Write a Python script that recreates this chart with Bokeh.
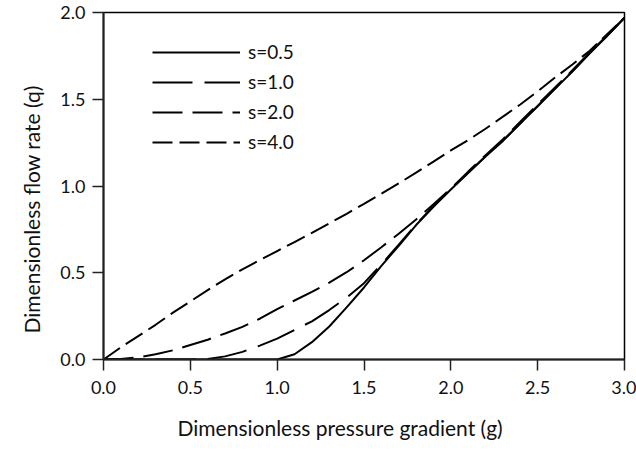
from bokeh.plotting import figure
from bokeh.models import Range1d, FixedTicker, PrintfTickFormatter, Legend, LegendItem, Title
from bokeh.embed import file_html
from bokeh.resources import INLINE

# Data
g = [0.0, 0.1, 0.2, 0.3, 0.4, 0.5, 0.6, 0.7, 0.8, 0.9, 1.0,
     1.1, 1.2, 1.3, 1.4, 1.5, 1.6, 1.7, 1.8, 1.9, 2.0,
     2.1, 2.2, 2.3, 2.4, 2.5, 2.6, 2.7, 2.8, 2.9, 3.0]

q_s05 = [0, 0, 0, 0, 0, 0, 0, 0, 0, 0, 0,
         0.03, 0.10, 0.19, 0.30, 0.415, 0.54, 0.655, 0.775, 0.88, 0.98,
         1.075, 1.17, 1.26, 1.36, 1.46, 1.56, 1.66, 1.765, 1.865, 1.97]
q_s10 = [0, 0, 0, 0, 0, 0, 0.003, 0.018, 0.044, 0.08, 0.12,
         0.17, 0.22, 0.285, 0.357, 0.44, 0.548, 0.662, 0.778, 0.884, 0.982,
         1.077, 1.172, 1.262, 1.362, 1.462, 1.562, 1.662, 1.766, 1.866, 1.97]
q_s20 = [0, 0.003, 0.012, 0.03, 0.053, 0.084, 0.114, 0.15, 0.188, 0.235, 0.29,
         0.34, 0.39, 0.443, 0.503, 0.572, 0.647, 0.725, 0.807, 0.895, 0.985,
         1.083, 1.178, 1.27, 1.37, 1.47, 1.568, 1.667, 1.77, 1.868, 1.97]
q_s40 = [0, 0.07, 0.135, 0.20, 0.27, 0.335, 0.40, 0.462, 0.52, 0.573, 0.625,
         0.677, 0.73, 0.785, 0.84, 0.897, 0.955, 1.015, 1.077, 1.14, 1.205,
         1.265, 1.33, 1.40, 1.47, 1.545, 1.625, 1.70, 1.78, 1.875, 1.97]

labels = ["s=0.5", "s=1.0", "s=2.0", "s=4.0"]
x_ticks = [0.0, 0.5, 1.0, 1.5, 2.0, 2.5, 3.0]
y_ticks = [0.0, 0.5, 1.0, 1.5, 2.0]
x_title = "Dimensionless pressure gradient (g)"
y_title = "Dimensionless flow rate (q)"

FONT = "Lato"
FSIZE = "18px"
TSIZE = "21px"

p = figure(width=636, height=453, output_backend="svg", toolbar_location=None,
           x_range=Range1d(0, 3), y_range=Range1d(0, 2),
           frame_width=521, frame_height=347,
           min_border_left=103, min_border_right=12, min_border_top=12, min_border_bottom=94)
p.background_fill_color = "white"
p.border_fill_color = "white"
p.grid.visible = False
p.outline_line_color = "black"
p.outline_line_width = 1.5

for ax in (p.xaxis[0], p.yaxis[0]):
    ax.axis_line_color = "#222222"
    ax.axis_line_width = 2
    ax.major_tick_line_color = "#222222"
    ax.major_tick_line_width = 1.5
    ax.major_tick_out = 11
    ax.major_tick_in = 0
    ax.minor_tick_line_color = None
    ax.major_label_text_font = FONT
    ax.major_label_text_font_size = FSIZE
    ax.major_label_text_color = "#111111"
    ax.formatter = PrintfTickFormatter(format="%.1f")

p.xaxis.ticker = FixedTicker(ticks=x_ticks)
p.yaxis.ticker = FixedTicker(ticks=y_ticks)
p.xaxis.major_label_standoff = 10
p.yaxis.major_label_standoff = 7

# axis titles, placed as in the reference (not centred on the frame)
xt = Title(text=x_title, align="left", offset=74, standoff=33,
           text_font=FONT, text_font_size=TSIZE, text_font_style="normal",
           text_color="#111111", text_line_height=0.9)
yt = Title(text=y_title, align="left", offset=26, standoff=27,
           text_font=FONT, text_font_size=TSIZE, text_font_style="normal",
           text_color="#111111", text_line_height=0.9)
p.add_layout(xt, "below")
p.add_layout(yt, "left")

r1 = p.line(g, q_s05, line_color="black", line_width=2)
r2 = p.line(g, q_s10, line_color="black", line_width=2, line_dash="40 12")
r3 = p.line(g, q_s20, line_color="black", line_width=2, line_dash="30 10")
r4 = p.line(g, q_s40, line_color="black", line_width=2, line_dash="20 7")

legend = Legend(items=[LegendItem(label=labels[0], renderers=[r1]),
                       LegendItem(label=labels[1], renderers=[r2]),
                       LegendItem(label=labels[2], renderers=[r3]),
                       LegendItem(label=labels[3], renderers=[r4])],
                location=(49, 206), orientation="vertical")
legend.border_line_color = None
legend.background_fill_alpha = 0
legend.padding = 0
legend.margin = 0
legend.spacing = 7
legend.glyph_width = 88
legend.glyph_height = 20
legend.label_height = 20
legend.label_standoff = 8
legend.label_text_font = FONT
legend.label_text_font_size = "19px"
legend.label_text_color = "#111111"
p.add_layout(legend)

open("out.html", "w").write(file_html(p, INLINE))
